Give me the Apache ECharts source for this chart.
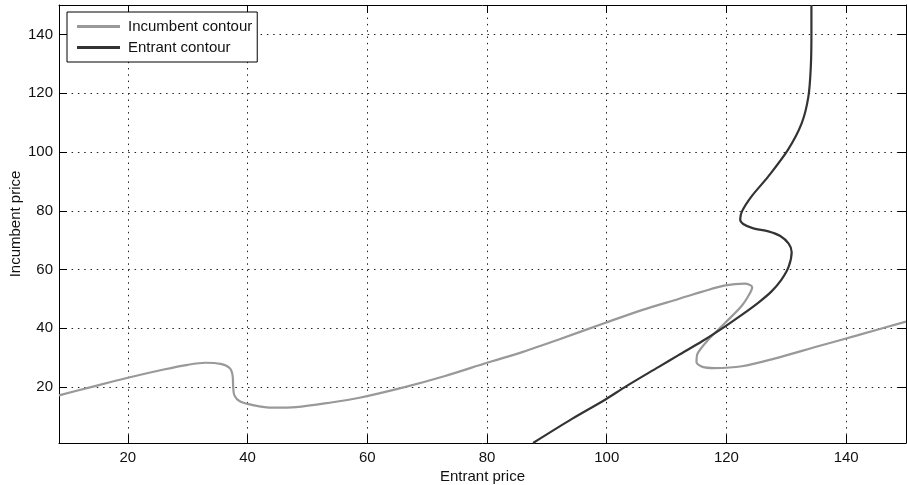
<!DOCTYPE html>
<html>
<head>
<meta charset="utf-8">
<script src="https://cdn.jsdelivr.net/npm/echarts@6/dist/echarts.min.js"></script>
<style>
  html, body { margin: 0; padding: 0; background: #fff; }
  #chart { width: 907px; height: 485px; }
</style>
</head>
<body>
<div id="chart"></div>
<script>
// tick positions
const xTicks = [20, 40, 60, 80, 100, 120, 140]
const yTicks = [20, 40, 60, 80, 100, 120, 140]

// incumbent contour, [entrant price, incumbent price]
const incumbent = [
  [8.5, 17.2], [14, 20.1], [20, 23.2], [26, 26.0], [30, 27.6], [33, 28.3],
  [35.5, 27.9], [37, 26.5], [37.5, 24], [37.6, 20], [37.8, 17.2], [38.7, 15.2],
  [40.9, 13.9], [44.2, 13.0], [48.1, 13.2], [53.7, 14.7], [58.7, 16.4],
  [66.4, 20.1], [73, 23.8], [80, 28.3], [86, 32], [92, 36.2], [99.8, 41.9],
  [106, 46.3], [112, 50.0], [116, 52.5], [119.8, 54.6], [123.1, 55.2],
  [124.3, 54], [123.8, 51.5], [122.5, 47.5], [119.8, 41.9], [117, 36.2],
  [115.2, 31.5], [115, 28.5], [116, 26.9], [118, 26.5], [122.6, 27.1],
  [128, 29.7], [135.3, 33.9], [142, 37.7], [150, 42.3]
]

// entrant contour
const entrant = [
  [87.7, 1], [94.2, 9.2], [99.8, 15.8], [103.1, 20.1], [108.7, 26.9],
  [112, 30.9], [116, 35.7], [119.8, 40.7], [122.5, 44.5], [125.3, 48.7],
  [127.5, 52.5], [129.2, 56.6], [130.4, 61], [130.9, 66], [130.4, 68.8],
  [129, 71.4], [127, 73], [124.5, 74], [122.8, 75.5], [122.3, 77],
  [122.6, 79.8], [124.2, 84.9], [127, 91.7], [130.3, 100.8], [132.6, 109.9],
  [133.7, 118.9], [134.1, 129.1], [134.2, 140], [134.2, 150]
]

const font = 'Liberation Sans, Arial, sans-serif'
const grid = { type: [1.5, 4.8], color: '#222', width: 1 }
const tick = { show: true, inside: true, length: 8, lineStyle: { color: '#000', width: 1 } }

let myChart = echarts.init(document.getElementById('chart'))
myChart.setOption({
  animation: false,
  backgroundColor: '#fff',
  textStyle: { fontFamily: font },
  grid: { left: 59, right: 1, top: 5, bottom: 42, outerBoundsMode: 'none', containLabel: false },
  legend: {
    orient: 'vertical',
    left: 67,
    top: 12,
    itemWidth: 43,
    itemHeight: 3,
    itemGap: 6,
    icon: 'rect',
    padding: [7, 5, 7, 10],
    borderColor: '#000',
    borderWidth: 1,
    backgroundColor: '#fff',
    textStyle: { fontSize: 15, color: '#111', fontFamily: font, padding: [0, 0, 0, 3] },
    data: ['Incumbent contour', 'Entrant contour'],
  },
  xAxis: [
    {
      type: 'value',
      min: 8.5,
      max: 150,
      name: 'Entrant price',
      nameLocation: 'middle',
      nameGap: 26,
      nameMoveOverlap: false,
      nameTextStyle: { fontSize: 15, color: '#111' },
      axisLine: { lineStyle: { color: '#000', width: 1 } },
      axisTick: { ...tick, customValues: xTicks },
      axisLabel: { customValues: xTicks, fontSize: 15, color: '#111', margin: 7 },
      splitLine: { show: true, lineStyle: grid },
    },
    {
      type: 'value',
      position: 'top',
      min: 8.5,
      max: 150,
      axisLine: { show: true, lineStyle: { color: '#000', width: 1 } },
      axisTick: { ...tick, customValues: xTicks },
      axisLabel: { show: false },
      splitLine: { show: false },
    },
  ],
  yAxis: [
    {
      type: 'value',
      min: 1,
      max: 150,
      name: 'Incumbent price',
      nameLocation: 'middle',
      nameGap: 36,
      nameMoveOverlap: false,
      nameTextStyle: { fontSize: 15, color: '#111' },
      axisLine: { show: true, lineStyle: { color: '#000', width: 1 } },
      axisTick: { ...tick, customValues: yTicks },
      axisLabel: { customValues: yTicks, fontSize: 15, color: '#111', margin: 6 },
      splitLine: { show: true, lineStyle: grid },
    },
    {
      type: 'value',
      position: 'right',
      min: 1,
      max: 150,
      axisLine: { show: true, lineStyle: { color: '#000', width: 1 } },
      axisTick: { ...tick, customValues: yTicks },
      axisLabel: { show: false },
      splitLine: { show: false },
    },
  ],
  series: [
    {
      name: 'Incumbent contour',
      type: 'line',
      data: incumbent,
      showSymbol: false,
      smooth: 0.3,
      clip: true,
      itemStyle: { color: '#999' },
      lineStyle: { color: '#999', width: 2.2 },
    },
    {
      name: 'Entrant contour',
      type: 'line',
      data: entrant,
      showSymbol: false,
      smooth: 0.3,
      clip: true,
      itemStyle: { color: '#333' },
      lineStyle: { color: '#333', width: 2.2 },
    },
  ],
})
</script>
</body>
</html>
